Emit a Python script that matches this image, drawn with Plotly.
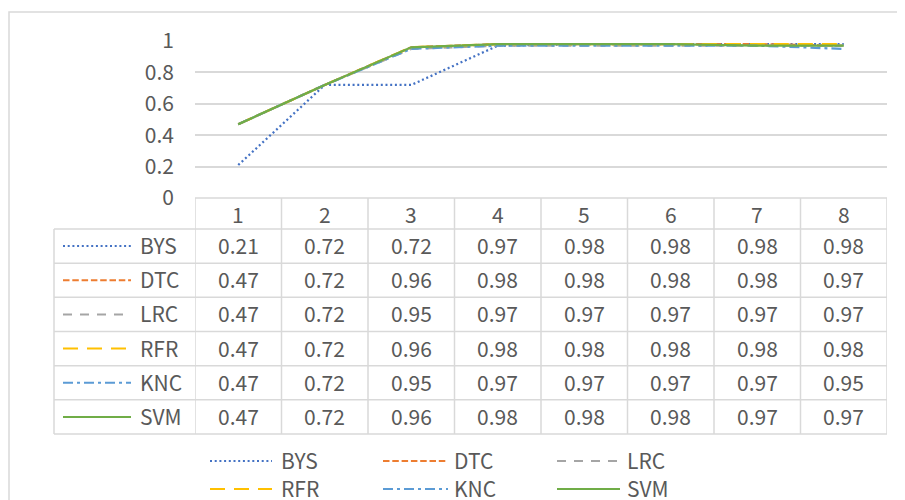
import plotly.graph_objects as go

# ---------------- data ----------------
categories = [1, 2, 3, 4, 5, 6, 7, 8]
series_names = ["BYS", "DTC", "LRC", "RFR", "KNC", "SVM"]
bys = [0.21, 0.72, 0.72, 0.97, 0.98, 0.98, 0.98, 0.98]
dtc = [0.47, 0.72, 0.96, 0.98, 0.98, 0.98, 0.98, 0.97]
lrc = [0.47, 0.72, 0.95, 0.97, 0.97, 0.97, 0.97, 0.97]
rfr = [0.47, 0.72, 0.96, 0.98, 0.98, 0.98, 0.98, 0.98]
knc = [0.47, 0.72, 0.95, 0.97, 0.97, 0.97, 0.97, 0.95]
svm = [0.47, 0.72, 0.96, 0.98, 0.98, 0.98, 0.97, 0.97]
y_tick_vals = [0, 0.2, 0.4, 0.6, 0.8, 1]
y_tick_labels = ["0", "0.2", "0.4", "0.6", "0.8", "1"]

series_values = [bys, dtc, lrc, rfr, knc, svm]

# ---------------- styles ----------------
colors = ["#4472C4", "#ED7D31", "#A5A5A5", "#FFC000", "#5B9BD5", "#70AD47"]
dashes = ["2px,2.7px", "6.5px,2.8px", "9px,8px", "15px,9px", "10px,4px,3px,4px", "solid"]

W, H = 905, 500
OFF = 8  # page body margin
FONT = "Noto Sans CJK SC, Noto Sans, sans-serif"
TXT = "#595959"
GRID = "#d9d9d9"
FS = 21


def px(x):
    return (x - OFF) / W


def py(y):
    return 1 - (y - OFF) / H


plot_left, plot_right = 195, 887
plot_top, plot_bottom = 41, 198
hdr_bottom = 229
tbl_bottom = 434
row_h = (tbl_bottom - hdr_bottom) / 6
label_left = 54
TDY = -1  # text vertical nudge

fig = go.Figure()
for name, vals, c, d in zip(series_names, series_values, colors, dashes):
    fig.add_trace(go.Scatter(
        x=categories, y=vals, mode="lines", name=name,
        line=dict(color=c, width=2.25, dash=d),
        showlegend=False, hoverinfo="skip"))

shapes = []
annotations = []

# outer chart border
shapes.append(dict(type="rect", xref="paper", yref="paper",
                   x0=px(9), x1=px(925), y0=py(12), y1=py(525),
                   line=dict(color=GRID, width=1.5), layer="below"))

# table horizontal lines
shapes.append(dict(type="line", xref="paper", yref="paper",
                   x0=px(plot_left), x1=px(plot_right), y0=py(plot_bottom), y1=py(plot_bottom),
                   line=dict(color=GRID, width=1.5)))
for i in range(7):
    yy = hdr_bottom + i * row_h
    shapes.append(dict(type="line", xref="paper", yref="paper",
                       x0=px(label_left), x1=px(plot_right), y0=py(yy), y1=py(yy),
                       line=dict(color=GRID, width=1.5)))
# table vertical lines (on category boundaries)
for k in range(len(categories) + 1):
    xv = categories[0] - 0.5 + k
    shapes.append(dict(type="line", xref="x", yref="paper",
                       x0=xv, x1=xv, y0=py(plot_bottom), y1=py(tbl_bottom),
                       line=dict(color=GRID, width=1.5)))
shapes.append(dict(type="line", xref="paper", yref="paper",
                   x0=px(label_left), x1=px(label_left), y0=py(hdr_bottom), y1=py(tbl_bottom),
                   line=dict(color=GRID, width=1.5)))

# header cells
for c in categories:
    annotations.append(dict(x=c, xref="x", y=py((plot_bottom + hdr_bottom) / 2 + 1 + TDY), yref="paper",
                            text=str(c), showarrow=False, xanchor="center", yanchor="middle",
                            font=dict(family=FONT, size=FS, color=TXT)))

# data rows
for r, (name, vals, c, d) in enumerate(zip(series_names, series_values, colors, dashes)):
    yc = hdr_bottom + (r + 0.5) * row_h
    shapes.append(dict(type="line", xref="paper", yref="paper",
                       x0=px(63), x1=px(131), y0=py(yc), y1=py(yc),
                       line=dict(color=c, width=2, dash=d)))
    annotations.append(dict(x=px(138), xref="paper", y=py(yc + TDY), yref="paper",
                            text=name, showarrow=False, xanchor="left", yanchor="middle",
                            font=dict(family=FONT, size=FS, color=TXT)))
    for cat, v in zip(categories, vals):
        annotations.append(dict(x=cat, xref="x", y=py(yc + TDY), yref="paper",
                                text=f"{v:.2f}", showarrow=False, xanchor="center", yanchor="middle",
                                font=dict(family=FONT, size=FS, color=TXT)))

# bottom legend
leg_cols = [(210, 272, 279), (383, 448, 452), (557, 620, 625)]
leg_rows = [461, 489]
for i, (name, c, d) in enumerate(zip(series_names, colors, dashes)):
    x0, x1, xt = leg_cols[i % 3]
    yc = leg_rows[i // 3]
    shapes.append(dict(type="line", xref="paper", yref="paper",
                       x0=px(x0), x1=px(x1), y0=py(yc), y1=py(yc),
                       line=dict(color=c, width=2, dash=d)))
    annotations.append(dict(x=px(xt), xref="paper", y=py(yc + TDY), yref="paper",
                            text=name, showarrow=False, xanchor="left", yanchor="middle",
                            font=dict(family=FONT, size=FS, color=TXT)))

fig.update_layout(
    width=W, height=H, autosize=False,
    margin=dict(l=0, r=0, t=0, b=0),
    paper_bgcolor="white", plot_bgcolor="white",
    font=dict(family=FONT, size=FS, color=TXT),
    shapes=shapes, annotations=annotations,
    xaxis=dict(domain=[px(plot_left), px(plot_right)], range=[0.5, 8.5],
               showgrid=False, zeroline=False, showticklabels=False, showline=False,
               automargin=False),
    yaxis=dict(domain=[py(plot_bottom), py(plot_top)], range=[0, 1],
               tickvals=y_tick_vals, ticktext=y_tick_labels,
               showgrid=True, gridcolor=GRID, gridwidth=1.5, zeroline=False,
               showline=False, ticks="", ticklabelstandoff=20, automargin=False,
               tickfont=dict(family=FONT, size=FS, color=TXT)),
)

fig.write_html("out.html")
